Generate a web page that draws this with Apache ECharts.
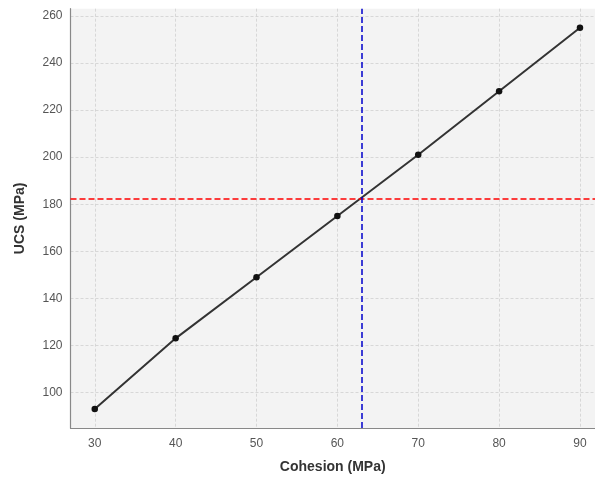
<!DOCTYPE html>
<html>
<head>
<meta charset="utf-8">
<script src="https://cdn.jsdelivr.net/npm/echarts@6/dist/echarts.min.js"></script>
<style>
  html, body { margin: 0; padding: 0; background: #fff; }
  #chart { width: 595px; height: 479px; }
</style>
</head>
<body>
<div id="chart"></div>
<script>
  // data
  const cohesion = [30, 40, 50, 60, 70, 80, 90]
  const ucs = [93, 123, 149, 175, 201, 228, 255]
  const xTicks = [30, 40, 50, 60, 70, 80, 90]
  const yTicks = [100, 120, 140, 160, 180, 200, 220, 240, 260]
  const targetCohesion = 63
  const targetUcs = 182.3

  const chart = echarts.init(document.getElementById('chart'))
  const labelFont = { color: '#555', fontSize: 12, fontFamily: 'Liberation Sans, Arial, sans-serif' }
  const titleFont = { color: '#333', fontSize: 14, fontWeight: 'bold', fontFamily: 'Liberation Sans, Arial, sans-serif' }
  const gridLine = { show: true, lineStyle: { color: '#cfcfcf', type: [3, 2], width: 0.8 } }

  const option = {
    animation: false,
    grid: {
      left: 70.5, top: 8.7, width: 524.5, height: 420,
      show: true, backgroundColor: '#f3f3f3', borderWidth: 0
    },
    xAxis: {
      type: 'value', min: 27, max: 91.86,
      name: 'Cohesion (MPa)', nameLocation: 'middle', nameGap: 32,
      nameTextStyle: titleFont,
      axisLine: { show: true, lineStyle: { color: '#888', width: 1.2 } },
      axisTick: { show: false, customValues: xTicks },
      axisLabel: { customValues: xTicks, margin: 10, ...labelFont },
      splitLine: gridLine
    },
    yAxis: {
      type: 'value', min: 84.9, max: 263.1,
      name: 'UCS (MPa)', nameLocation: 'middle', nameGap: 43,
      nameTextStyle: titleFont,
      axisLine: { show: true, lineStyle: { color: '#888', width: 1.2 } },
      axisTick: { show: false, customValues: yTicks },
      axisLabel: { customValues: yTicks, margin: 8, ...labelFont },
      splitLine: gridLine
    },
    series: [
      {
        type: 'line',
        data: cohesion.map((c, i) => [c, ucs[i]]),
        symbol: 'circle', symbolSize: 6.5,
        itemStyle: { color: '#111' },
        lineStyle: { color: '#333', width: 2 },
        markLine: {
          silent: true, symbol: 'none', label: { show: false },
          data: [
            { yAxis: targetUcs, lineStyle: { color: '#ff0000', type: [6, 3], width: 1.5 } },
            { xAxis: targetCohesion, lineStyle: { color: '#0000cc', type: [6, 3], width: 1.5 } }
          ]
        }
      }
    ]
  }
  chart.setOption(option)
</script>
</body>
</html>
